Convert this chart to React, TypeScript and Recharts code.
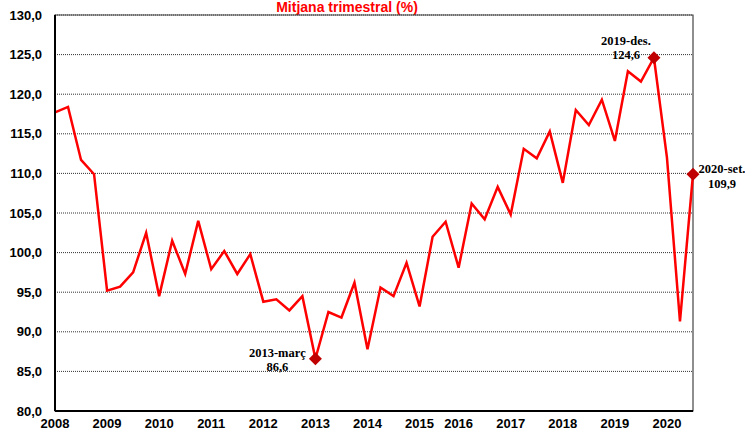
import React from 'react';
import { LineChart, Line, XAxis, YAxis, CartesianGrid, ReferenceArea } from 'recharts';

// quarterly averages, 2008 Q1 .. 2020 Q3 (one quarter of 2015 is not in the series)
const values = [
  117.7, 118.4, 111.7, 109.9,
  95.2, 95.7, 97.5, 102.5,
  94.5, 101.5, 97.3, 104.0,
  97.9, 100.2, 97.3, 99.8,
  93.8, 94.1, 92.7, 94.5,
  86.6, 92.5, 91.8, 96.2,
  87.8, 95.6, 94.5, 98.7,
  93.2, 102.0, 103.9,
  98.1, 106.2, 104.2, 108.3,
  104.8, 113.1, 111.9, 115.3,
  108.8, 118.0, 116.1, 119.3,
  114.1, 122.9, 121.6, 124.6,
  112.0, 91.3, 109.9,
];

const years = ['2008', '2009', '2010', '2011', '2012', '2013', '2014', '2015', '2016', '2017', '2018', '2019', '2020'];
const yearStarts = [0, 4, 8, 12, 16, 20, 24, 28, 31, 35, 39, 43, 47];

const yTicks = [80, 85, 90, 95, 100, 105, 110, 115, 120, 125, 130];

const highlightIdx = [20, 46, 49];
const highlightNames = ['2013-març', '2019-des.', '2020-set.'];

const data = values.map((v, i) => ({ i, v }));

const fmt = (v: number) => v.toFixed(1).replace('.', ',');

// where each annotation sits relative to its marker
const labelOffsets: Record<number, { dx: number; dy1: number; dy2: number }> = {
  20: { dx: -38, dy1: -2, dy2: 12 },
  46: { dx: -28, dy1: -13, dy2: 1 },
  49: { dx: 29, dy1: -1, dy2: 14 },
};

const Marker = (props: any) => {
  const { cx, cy, index } = props;
  const k = highlightIdx.indexOf(index);
  if (k < 0) return <g key={`d-${index}`} />;
  const off = labelOffsets[index];
  const s = 6.5;
  return (
    <g key={`d-${index}`}>
      <polygon
        points={`${cx},${cy - s} ${cx + s},${cy} ${cx},${cy + s} ${cx - s},${cy}`}
        fill="#C00000"
      />
      <text
        x={cx + off.dx}
        y={cy + off.dy1}
        textAnchor="middle"
        fontFamily="'Liberation Serif', 'Times New Roman', serif"
        fontWeight="bold"
        fontSize={12.5}
        fill="#000"
      >
        {highlightNames[k]}
      </text>
      <text
        x={cx + off.dx}
        y={cy + off.dy2}
        textAnchor="middle"
        fontFamily="'Liberation Serif', 'Times New Roman', serif"
        fontWeight="bold"
        fontSize={12.5}
        fill="#000"
      >
        {fmt(values[index])}
      </text>
    </g>
  );
};

export default function App() {
  return (
    <div style={{ position: 'fixed', left: 0, top: 0, width: 745, height: 436, background: '#fff', overflow: 'hidden' }}>
      <svg width={745} height={20} style={{ position: 'absolute', left: 0, top: 0 }}>
        <text
          x={347}
          y={12}
          textAnchor="middle"
          fontFamily="'Liberation Sans', Arial, sans-serif"
          fontWeight="bold"
          fontSize={14}
          fill="#FF0000"
        >
          Mitjana trimestral (%)
        </text>
      </svg>
      <LineChart
        width={745}
        height={436}
        data={data}
        margin={{ top: 15, right: 52, left: 0, bottom: 0 }}
      >
        <CartesianGrid vertical={false} stroke="#333" strokeDasharray="1 1" />
        <ReferenceArea x1={0} x2={49} y1={80} y2={130} fill="none" stroke="#444" strokeWidth={1.2} />
        <XAxis
          dataKey="i"
          type="number"
          domain={[0, 49]}
          ticks={yearStarts}
          tickFormatter={(t: number) => years[yearStarts.indexOf(t)]}
          interval={0}
          height={25}
          axisLine={{ stroke: '#000', strokeWidth: 2 }}
          tickLine={false}
          tickSize={0}
          tickMargin={8}
          tick={{ fill: '#000', fontSize: 13, fontWeight: 'bold', fontFamily: "'Liberation Sans', Arial, sans-serif" }}
        />
        <YAxis
          type="number"
          domain={[80, 130]}
          ticks={yTicks}
          interval={0}
          width={55}
          tickFormatter={fmt}
          axisLine={{ stroke: '#000', strokeWidth: 2 }}
          tickLine={false}
          tickSize={0}
          tickMargin={13}
          tick={{ fill: '#000', fontSize: 13, fontWeight: 'bold', fontFamily: "'Liberation Sans', Arial, sans-serif" }}
        />
        <Line
          type="linear"
          dataKey="v"
          stroke="#FF0000"
          strokeWidth={2.5}
          dot={Marker}
          activeDot={false}
          isAnimationActive={false}
        />
      </LineChart>
    </div>
  );
}
